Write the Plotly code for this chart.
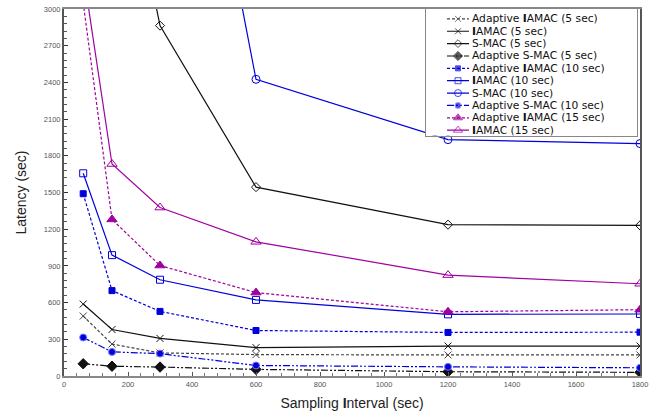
import plotly.graph_objects as go

# Sampling intervals (sec)
x_vals = [60, 150, 300, 600, 1200, 1800]

# Latency (sec) per series
adaptive_iamac_5 = [490, 261, 189, 175, 172, 172]
iamac_5 = [588, 380, 307, 232, 245, 245]
smac_5 = [9000, 4800, 2864, 1544, 1237, 1231]
adaptive_smac_5 = [100, 80, 73, 54, 35, 30]
adaptive_iamac_10 = [1490, 698, 528, 372, 356, 358]
iamac_10 = [1657, 988, 787, 622, 504, 507]
smac_10 = [15000, 10000, 6500, 2425, 1932, 1900]
adaptive_smac_10 = [315, 197, 183, 86, 75, 67]
adaptive_iamac_15 = [3050, 1280, 903, 682, 525, 542]
iamac_15 = [3300, 1733, 1377, 1097, 825, 754]

y_ticks = [0, 300, 600, 900, 1200, 1500, 1800, 2100, 2400, 2700, 3000]
x_ticks = [0, 200, 400, 600, 800, 1000, 1200, 1400, 1600, 1800]

BLACK = "#111111"
GRAY = "#444444"
BLUE = "#0000DD"
PURPLE = "#A000A0"

series = [
    ("Adaptive <b>I</b>AMAC (5 sec)", adaptive_iamac_5, GRAY, "3px,2px", "x-thin", 7, None, GRAY),
    ("<b>I</b>AMAC (5 sec)", iamac_5, BLACK, "solid", "x-thin", 7, None, BLACK),
    ("S-MAC (5 sec)", smac_5, BLACK, "solid", "diamond-open", 7, None, BLACK),
    ("Adaptive S-MAC (5 sec)", adaptive_smac_5, BLACK, "7px,2px,2px,2px,2px,2px", "diamond", 8, BLACK, BLACK),
    ("Adaptive <b>I</b>AMAC (10 sec)", adaptive_iamac_10, BLUE, "3px,2px", "square", 6, BLUE, BLUE),
    ("<b>I</b>AMAC (10 sec)", iamac_10, BLUE, "solid", "square-open", 7, None, BLUE),
    ("S-MAC (10 sec)", smac_10, BLUE, "solid", "circle-open", 8, None, BLUE),
    ("Adaptive S-MAC (10 sec)", adaptive_smac_10, BLUE, "7px,2px,2px,2px,2px,2px", "circle", 7, BLUE, "#7777FF"),
    ("Adaptive <b>I</b>AMAC (15 sec)", adaptive_iamac_15, PURPLE, "3px,2px", "triangle-up", 9, PURPLE, PURPLE),
    ("<b>I</b>AMAC (15 sec)", iamac_15, PURPLE, "solid", "triangle-up-open", 9, None, PURPLE),
]

# Legend-box layout (key sample positions inside the legend axes, in px units of the box)
LEG_KEY_X = [21, 32, 43]
LEG_TEXT_X = 45
LEG_BOX_W = 211

fig = go.Figure()
for i, (name, ys, color, dash, symbol, size, fill, mline) in enumerate(series):
    marker = dict(symbol=symbol, size=size, color=fill if fill else color,
                  line=dict(color=mline, width=1))
    fig.add_trace(go.Scatter(
        x=x_vals, y=ys, name=name, mode="lines+markers",
        line=dict(color=color, width=1.2, dash=dash),
        marker=marker, showlegend=False, xaxis="x", yaxis="y",
    ))
    # legend key drawn in the legend box axes
    key_marker = dict(symbol=symbol, size=[0, max(size - 1, 5), 0],
                      color=fill if fill else color, line=dict(color=mline, width=1))
    fig.add_trace(go.Scatter(
        x=LEG_KEY_X, y=[i] * len(LEG_KEY_X), mode="lines+markers",
        line=dict(color=color, width=1.2, dash=dash), marker=key_marker,
        showlegend=False, hoverinfo="skip", xaxis="x2", yaxis="y2",
    ))
    fig.add_annotation(
        x=LEG_TEXT_X, y=i, xref="x2", yref="y2", text=name, showarrow=False,
        xanchor="left", yanchor="middle", borderpad=0,
        font=dict(family="DejaVu Sans, Arial, sans-serif", size=10.7, color="#111111"),
    )

tick_font = dict(family="Liberation Sans, Arial, sans-serif", size=7.5, color="#555555")
title_font = dict(family="Liberation Sans, Arial, sans-serif", size=14, color="#222222")

W, H = 657, 416
ML, MR, MT, MB = 64, 17, 5, 40
plot_w = W - ML - MR
plot_h = H - MT - MB
# legend box in pixels (left, right, top, bottom) of the figure
box_l, box_r, box_t, box_b = 426, 637, 5, 133
row_pitch = 12.5
first_row_offset = 10  # px from box top to first row centre

fig.update_layout(
    width=W, height=H,
    margin=dict(l=ML, r=MR, t=MT, b=MB),
    paper_bgcolor="white", plot_bgcolor="white",
    showlegend=False,
    xaxis=dict(
        domain=[0, 1], anchor="y",
        range=[0, 1800], tickvals=x_ticks, ticktext=[str(v) for v in x_ticks],
        showgrid=False, zeroline=False,
        showline=True, linecolor="#888888", linewidth=2, mirror=True,
        ticks="inside", ticklen=4, tickcolor="#555555",
        minor=dict(dtick=40, ticks="inside", ticklen=3, tickcolor="#777777"),
        tickfont=tick_font,
        title=dict(text="Sampling <b>I</b>nterval (sec)", font=title_font, standoff=10),
    ),
    yaxis=dict(
        domain=[0, 1], anchor="x",
        range=[0, 3000], tickvals=y_ticks, ticktext=[str(v) for v in y_ticks],
        showgrid=False, zeroline=False,
        showline=True, linecolor="#555555", linewidth=2, mirror=True,
        ticks="inside", ticklen=4, tickcolor="#333333",
        minor=dict(dtick=60, ticks="inside", ticklen=3, tickcolor="#555555"),
        tickfont=tick_font,
        title=dict(text="Latency (sec)", font=title_font, standoff=14),
    ),
    xaxis2=dict(
        domain=[(box_l - ML) / plot_w, (box_r - ML) / plot_w], anchor="y2",
        range=[0, LEG_BOX_W], showgrid=False, zeroline=False,
        showticklabels=False, ticks="", showline=True, mirror=True,
        linecolor="#888888", linewidth=1, fixedrange=True,
    ),
    yaxis2=dict(
        domain=[1 - (box_b - MT) / plot_h, 1 - (box_t - MT) / plot_h], anchor="x2",
        range=[(box_b - box_t - first_row_offset) / row_pitch, -first_row_offset / row_pitch],
        showgrid=False, zeroline=False,
        showticklabels=False, ticks="", showline=True, mirror=True,
        linecolor="#888888", linewidth=1, fixedrange=True,
    ),
)

fig.write_html("out.html", config={"displayModeBar": False},
               post_script="document.body.style.margin='0px';")
